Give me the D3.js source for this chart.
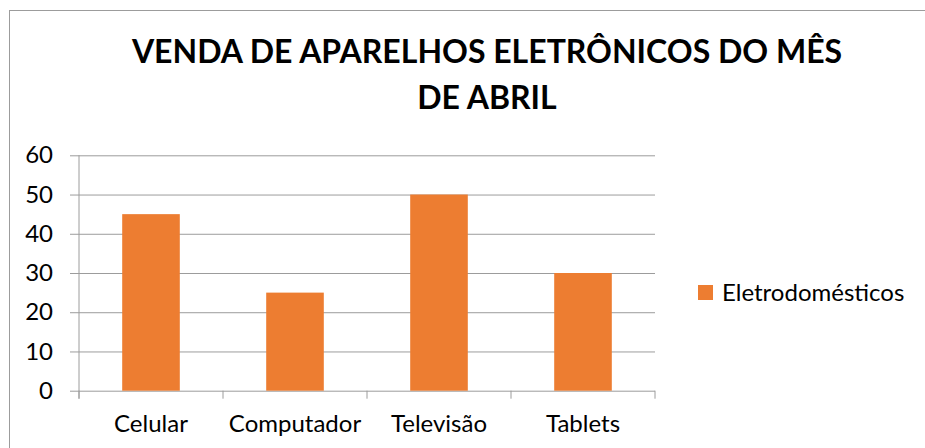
<!DOCTYPE html>
<html>
<head>
  <meta charset="utf-8">
  <script src="https://d3js.org/d3.v7.min.js"></script>
  <style>
    body { margin: 0; background: #fff; }
    text { font-family: Lato, "Open Sans", sans-serif; fill: #000; }
  </style>
  <script>
    // data
    var categories = [ "Celular", "Computador", "Televisão", "Tablets" ];
    var vendas     = [ 45, 25, 50, 30 ];
    var yTicks     = [ 0, 10, 20, 30, 40, 50, 60 ];
    var seriesName = "Eletrodomésticos";
    var titleLines = [ "VENDA DE APARELHOS ELETRÔNICOS DO MÊS", "DE ABRIL" ];

    function makeChart() {
      var svg = d3.select( "#chart" );
      var m = { left: 79, top: 155.3, right: 655, bottom: 390.7 };
      var w = m.right - m.left, h = m.bottom - m.top;
      var grey = "#9c9c9c", orange = "#ED7D31";

      // chart frame (right and bottom edges run off the picture)
      svg.append( "rect" ).attr( "x", 9.5 ).attr( "y", 10.5 )
          .attr( "width", 1000 ).attr( "height", 1000 )
          .attr( "fill", "none" ).attr( "stroke", grey );

      svg.append( "g" ).selectAll( "text" ).data( titleLines ).enter().append( "text" )
          .text( d => d )
          .attr( "x", 487 ).attr( "y", (d,i) => 63 + i*46 )
          .attr( "text-anchor", "middle" )
          .attr( "font-size", 32 ).attr( "font-weight", "bold" );

      var x = d3.scaleBand().domain( categories ).range( [0, w] )
          .paddingInner( 0.6 ).paddingOuter( 0.3 );
      var y = d3.scaleLinear().domain( [0, 60] ).range( [h, 0] );

      var g = svg.append( "g" ).attr( "transform", `translate(${m.left},${m.top})` );

      // y axis + gridlines
      var ya = g.append( "g" ).call( d3.axisLeft( y ).tickValues( yTicks )
          .tickSize( 9 ).tickPadding( 17 ) );
      ya.select( ".domain" ).remove();
      ya.selectAll( "line" ).attr( "x1", w ).attr( "stroke", grey );
      ya.selectAll( "text" ).attr( "font-size", 24 ).attr( "font-family", null );

      g.append( "line" ).attr( "x1", 0 ).attr( "x2", 0 )
          .attr( "y1", 0 ).attr( "y2", h + 8 ).attr( "stroke", grey );

      // category boundary ticks
      var bounds = d3.range( categories.length + 1 ).map( i => i * x.step() );
      g.append( "g" ).selectAll( "line" ).data( bounds ).enter().append( "line" )
          .attr( "x1", d => d ).attr( "x2", d => d )
          .attr( "y1", h ).attr( "y2", h + 8 ).attr( "stroke", grey );

      var xa = g.append( "g" ).attr( "transform", `translate(0,${h})` )
          .call( d3.axisBottom( x ).tickSize( 0 ) );
      xa.select( ".domain" ).remove();
      xa.selectAll( "text" ).attr( "dy", null ).attr( "y", 432 - m.bottom )
          .attr( "font-size", 24 ).attr( "font-family", null );

      g.selectAll( "rect.bar" ).data( vendas ).enter().append( "rect" )
          .attr( "class", "bar" )
          .attr( "x", (d,i) => x( categories[i] ) )
          .attr( "y", d => y( d ) )
          .attr( "width", x.bandwidth() )
          .attr( "height", d => h - y( d ) )
          .attr( "fill", orange );

      // legend
      var lg = svg.append( "g" ).attr( "transform", "translate(698,285)" );
      lg.append( "rect" ).attr( "width", 15 ).attr( "height", 15 ).attr( "fill", orange );
      lg.append( "text" ).text( seriesName ).attr( "x", 24 ).attr( "y", 16 )
          .attr( "font-size", 24 );
    }
  </script>
</head>
<body onload="makeChart()">
  <svg id="chart" width="925" height="448"></svg>
</body>
</html>
